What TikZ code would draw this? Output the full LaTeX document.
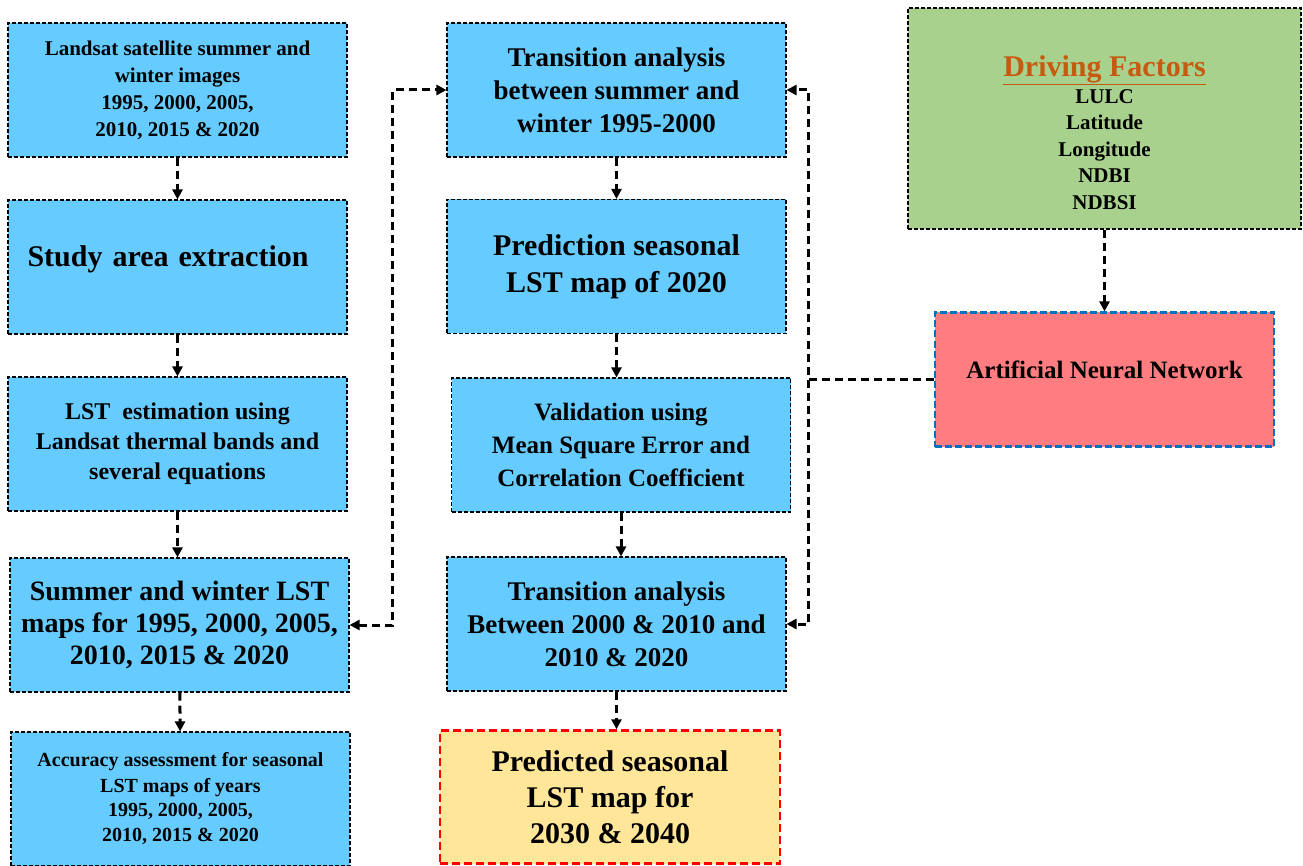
\documentclass[tikz,border=0pt]{standalone}
\usepackage{fontspec}
\setmainfont{Liberation Serif}
\usepackage{tikz}
\usetikzlibrary{arrows.meta,positioning,calc}
\usepackage{xcolor}
\definecolor{skyfill}{RGB}{102,204,255}
\definecolor{leaffill}{RGB}{169,209,142}
\definecolor{rosefill}{RGB}{255,124,128}
\definecolor{sandfill}{RGB}{255,230,153}
\definecolor{annedge}{RGB}{0,112,192}
\definecolor{factorcol}{RGB}{197,90,17}
\newcommand{\fsz}[2]{\fontsize{#1}{#2}\selectfont\bfseries}
\tikzset{
  stage/.style={draw=black,fill=skyfill,line width=1.1pt,dash pattern=on 4pt off 2pt,
                minimum width=339pt,minimum height=134pt,inner sep=0pt,align=center},
  factorbox/.style={stage,fill=leaffill,minimum width=393pt,minimum height=221pt},
  annbox/.style={stage,fill=rosefill,draw=annedge,line width=2.2pt,
                 dash pattern=on 7pt off 3pt},
  resultbox/.style={stage,fill=sandfill,draw=red,line width=2.4pt,
                    dash pattern=on 8pt off 4pt,minimum width=340pt,minimum height=133pt},
  flow/.style={draw=black,line width=3pt,dash pattern=on 8pt off 5pt,
               -{Triangle[length=10pt,width=10pt]}},
  twoway/.style={flow,{Triangle[length=10pt,width=10pt]}-{Triangle[length=10pt,width=10pt]}},
}
\begin{document}
\begin{tikzpicture}[x=1pt,y=-1pt]
  \useasboundingbox (0,0) rectangle (1303,866);
  % left column
  \node[stage,font=\fsz{21}{27}] (landsat) at (177.5,90)
    {Landsat satellite summer and\\ winter images\\ 1995, 2000, 2005,\\ 2010, 2015 \& 2020};
  \node[stage,font=\fsz{30}{36},text width=300pt,align=left,text depth=22pt] (study)
    at (177.5,267) {Study area extraction};
  \node[stage,font=\fsz{24}{30}] (lstest) at (177.5,444)
    {LST\ \ estimation using\\ Landsat thermal bands and\\ several equations};
  \node[stage,font=\fsz{28}{32}] (lstmaps) at (179.5,625)
    {Summer and winter LST\\ maps for 1995, 2000, 2005,\\ 2010, 2015 \& 2020};
  \node[stage,font=\fsz{20}{25}] (accuracy) at (180.5,799)
    {Accuracy assessment for seasonal\\ LST maps of years\\ 1995, 2000, 2005,\\ 2010, 2015 \& 2020};
  % middle column
  \node[stage,font=\fsz{27}{33}] (trans1) at (616.5,90)
    {Transition analysis\\ between summer and\\ winter 1995-2000};
  \node[stage,font=\fsz{30}{37}] (predict) at (616.5,266.5)
    {Prediction seasonal\\ LST map of 2020};
  \node[stage,font=\fsz{25}{33}] (valid) at (621,445)
    {Validation using\\ Mean Square Error and\\ Correlation Coefficient};
  \node[stage,font=\fsz{27}{33}] (trans2) at (616.5,624)
    {Transition analysis\\ Between 2000 \& 2010 and\\ 2010 \& 2020};
  \node[resultbox,font=\fsz{30}{36}] (future) at (610,797)
    {Predicted seasonal\\ LST map for\\ 2030 \& 2040};
  % right column
  \node[factorbox] (drivers) at (1104.5,118.5) {};
  \node[align=center,font=\fsz{21}{26.5},yshift=-14pt] (drvtext) at (drivers.center)
    {{\fsz{30}{36}\color{factorcol}\underline{Driving Factors}}\\
     LULC\\ Latitude\\ Longitude\\ NDBI\\ NDBSI};
  \node[annbox,font=\fsz{25}{30},text depth=20pt] (ann) at (1104.5,379.5)
    {Artificial Neural Network};
  % arrows
  \draw[flow] (landsat) -- (study);
  \draw[flow] (study) -- (lstest);
  \draw[flow] (lstest.south) -- (lstest.south |- lstmaps.north);
  \draw[flow] (lstmaps) -- (accuracy);
  \draw[flow] (trans1) -- (predict);
  \draw[flow] (predict.south) -- (predict.south |- valid.north);
  \draw[flow] (valid.south) -- (valid.south |- trans2.north);
  \draw[flow] (trans2.south) -- (trans2.south |- future.north);
  \draw[flow] (drivers) -- (ann);
  \draw[twoway] (lstmaps.east) -- ++(43,0) |- (trans1.west);
  \coordinate (split) at ($(ann.west)+(-125,0)$);
  \draw[flow] (ann.west) -- (split) |- (trans1.east);
  \draw[flow] (split) |- (trans2.east);
\end{tikzpicture}
\end{document}
